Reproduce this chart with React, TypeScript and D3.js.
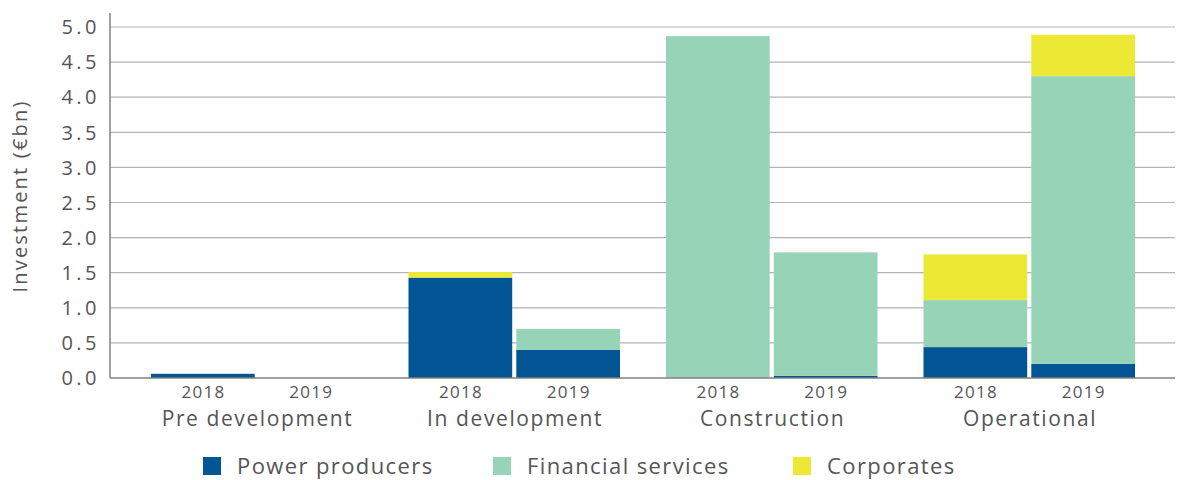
import React from "react";
import * as d3 from "d3";

const stages = ["Pre development", "In development", "Construction", "Operational"];
const years = ["2018", "2019"];
const seriesNames = ["Power producers", "Financial services", "Corporates"];
const seriesColors = ["#015595", "#97D3B7", "#EDE834"];
// values per stage-year in order: PreDev 2018, PreDev 2019, InDev 2018, InDev 2019, Constr 2018, Constr 2019, Oper 2018, Oper 2019
const powerProducers = [0.06, 0, 1.43, 0.40, 0, 0.03, 0.44, 0.20];
const financialServices = [0, 0, 0, 0.30, 4.87, 1.76, 0.67, 4.10];
const corporates = [0, 0, 0.08, 0, 0, 0, 0.65, 0.59];
const yTicks = [0, 0.5, 1, 1.5, 2, 2.5, 3, 3.5, 4, 4.5, 5];

const W = 1185, H = 480;
const FONT = "'Open Sans', sans-serif";
const TEXT = "#555";

export default function App() {
  const y = d3.scaleLinear().domain([0, 5]).range([378, 27]);
  const xGroup = d3.scaleBand().domain(stages).range([128, 1158]).paddingInner(0).paddingOuter(0);
  const xYear = d3.scaleBand().domain(years).range([23, xGroup.bandwidth() - 23]).paddingInner(0.038);

  const rows = stages.flatMap((s, si) =>
    years.map((yr, yi) => {
      const i = si * 2 + yi;
      return { stage: s, year: yr, pp: powerProducers[i], fs: financialServices[i], co: corporates[i] };
    })
  );
  const stack = d3.stack<any>().keys(["pp", "fs", "co"])(rows);

  const legendX = [203, 493, 793];

  return (
    <svg width={W} height={H} style={{ position: "absolute", left: 0, top: 0, background: "#fff" }} fontFamily={FONT}>
      {yTicks.map((t) => (
        <g key={t}>
          {t > 0 && <line x1={110} x2={1175} y1={y(t)} y2={y(t)} stroke="#b3b3b3" strokeWidth={1.2} />}
          <text x={100} y={y(t)} dy="0.36em" textAnchor="end" fontSize={20} letterSpacing={3.5} fill={TEXT}>
            {t.toFixed(1)}
          </text>
        </g>
      ))}
      {stack.map((layer, li) => (
        <g key={li} fill={seriesColors[li]}>
          {layer.map((d, di) => {
            const r = rows[di];
            const x = (xGroup(r.stage) ?? 0) + (xYear(r.year) ?? 0);
            const h = y(d[0]) - y(d[1]);
            if (h <= 0) return null;
            return <rect key={di} x={x} y={y(d[1])} width={xYear.bandwidth()} height={h} />;
          })}
        </g>
      ))}
      <line x1={110} x2={1175} y1={y(0)} y2={y(0)} stroke="#808080" strokeWidth={1.5} />
      <line x1={110} x2={110} y1={13} y2={y(0)} stroke="#808080" strokeWidth={1.5} />
      {rows.map((r, i) => (
        <text key={i} x={(xGroup(r.stage) ?? 0) + (xYear(r.year) ?? 0) + xYear.bandwidth() / 2 + 0.6} y={398}
          textAnchor="middle" fontSize={17} letterSpacing={1.3} fill={TEXT}>{r.year}</text>
      ))}
      {stages.map((s) => (
        <text key={s} x={(xGroup(s) ?? 0) + xGroup.bandwidth() / 2 + 0.8} y={426} textAnchor="middle" fontSize={21}
          letterSpacing={1.6} fill={TEXT}>
          {s}
        </text>
      ))}
      <text transform={`translate(27,196) rotate(-90)`} textAnchor="middle" fontSize={20} letterSpacing={2.2} fill={TEXT}>
        Investment (€bn)
      </text>
      {seriesNames.map((n, i) => (
        <g key={n}>
          <rect x={legendX[i]} y={457} width={18} height={18} fill={seriesColors[i]} />
          <text x={legendX[i] + 34} y={474} fontSize={22} letterSpacing={1.4} fill={TEXT}>{n}</text>
        </g>
      ))}
    </svg>
  );
}
